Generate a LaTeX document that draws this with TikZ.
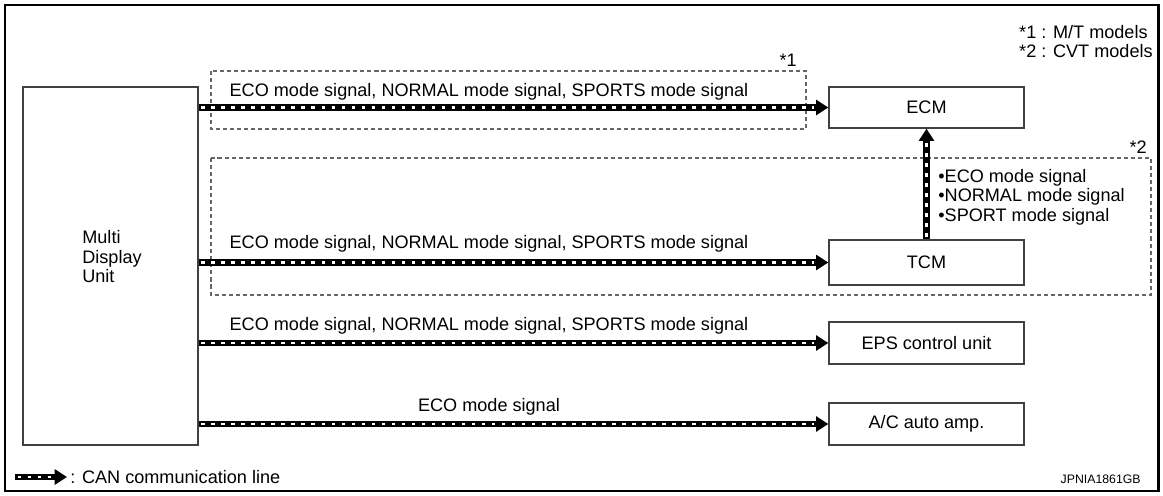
\documentclass[tikz,border=0pt]{standalone}
\usepackage{fontspec}
\setmainfont{Liberation Sans}
\usetikzlibrary{arrows.meta,positioning}

\tikzset{
  unitbox/.style={draw=black!75,line width=0.8pt,fill=white,minimum width=3.9cm,minimum height=0.84cm,inner sep=0pt,font=\sigfont},
  groupbox/.style={draw=black!60,line width=0.6pt,dash pattern=on 2.3pt off 1.7pt},
  canbase/.style={line width=3.8pt,-{Triangle[length=7pt,width=8.5pt]}},
  candash/.style={white,line width=1.5pt,dash pattern=on 2.1pt off 3.6pt,shorten >=8pt,shorten <=1.5pt},
  sig/.style={font=\sigfont,inner sep=0pt},
}
\newcommand\sigfont{\fontsize{10.3}{11.1}\selectfont}
\newcommand\canlink[2]{\draw[canbase] (#1) -- (#2); \draw[candash] (#1) -- (#2);}

\begin{document}
\begin{tikzpicture}[x=0.02cm,y=-0.02cm]
\useasboundingbox (0,0) rectangle (1163,496);
\draw[line width=1.7pt] (5,5) rectangle (1158,491);
% units
\node[unitbox,minimum width=3.5cm,minimum height=7.16cm] (mdu) at (110.5,266) {};
\node[sig,anchor=west,align=left] (mdutext) at (82,257) {Multi\\Display\\Unit};
\node[unitbox,minimum height=0.82cm] (ecm) at (926.5,107.5) {ECM};
\node[unitbox,minimum height=0.9cm] (tcm) at (926.5,262.5) {TCM};
\node[unitbox] (eps) at (926.5,343) {EPS control unit};
\node[unitbox] (acamp) at (926.5,424) {A/C auto amp.};
% model groups
\draw[groupbox] (211,71) rectangle (806,129);
\node[sig,anchor=base east] (g1) at (797,67) {*1};
\draw[groupbox] (211,158) rectangle (1151,295);
\node[sig,anchor=base east] (g2) at (1147,154) {*2};
% CAN lines
\canlink{ecm.west -| mdu.east}{ecm.west}
\canlink{tcm.west -| mdu.east}{tcm.west}
\canlink{eps.west -| mdu.east}{eps.west}
\canlink{acamp.west -| mdu.east}{acamp.west}
\canlink{tcm.north}{ecm.south}
% signal labels
\node[sig] (s1) at (489,92) {ECO mode signal, NORMAL mode signal, SPORTS mode signal};
\node[sig] (s2) at (489,244) {ECO mode signal, NORMAL mode signal, SPORTS mode signal};
\node[sig] (s3) at (489,326) {ECO mode signal, NORMAL mode signal, SPORTS mode signal};
\node[sig] (s4) at (489,407) {ECO mode signal};
\node[sig,anchor=north west,align=left] (s5) at (938,169) {•ECO mode signal\\•NORMAL mode signal\\•SPORT mode signal};
% notes
\node[sig,anchor=north east,align=left] (notes) at (1153,25) {*1 : M/T models\\*2 : CVT models};
\coordinate (lg0) at (15,477);
\coordinate (lg1) at (67,477);
\canlink{lg0}{lg1}
\node[sig,anchor=west] (lgtext) at (70,477) {: CAN communication line};
\node[font=\fontsize{7}{8}\selectfont,anchor=east,inner sep=0pt] (ref) at (1141,479) {JPNIA1861GB};
\end{tikzpicture}
\end{document}
